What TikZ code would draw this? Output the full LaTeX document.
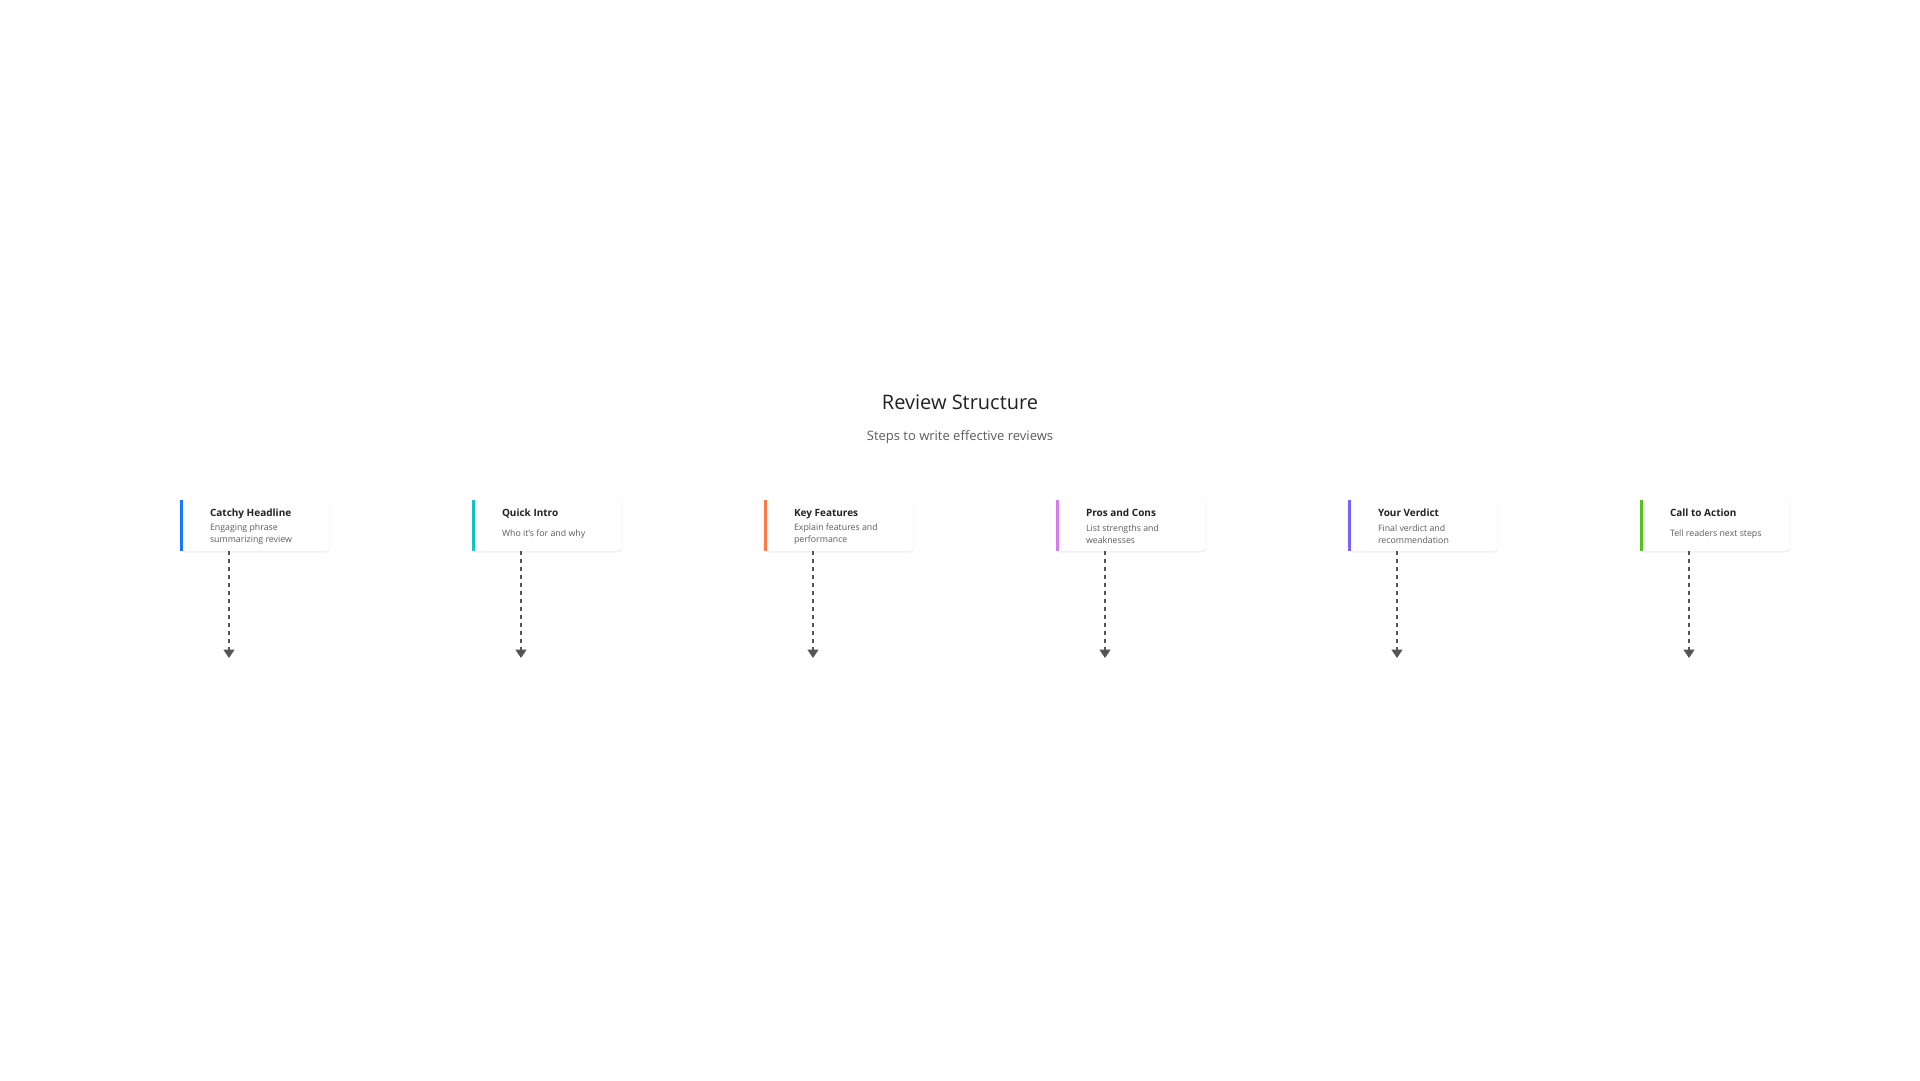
\documentclass[tikz,border=0pt]{standalone}
\usepackage{fontspec}
\setmainfont{Open Sans}
\usetikzlibrary{positioning,arrows.meta,shadows}

\definecolor{inkdark}{HTML}{222222}
\definecolor{inkgray}{HTML}{5C5C5C}
\definecolor{flowgray}{HTML}{555555}
\definecolor{barblue}{HTML}{1677FF}
\definecolor{barcyan}{HTML}{13C2C2}
\definecolor{barorange}{HTML}{FF7A45}
\definecolor{barorchid}{HTML}{D17CF5}
\definecolor{barviolet}{HTML}{7B61FF}
\definecolor{bargreen}{HTML}{52C41A}

\tikzset{
  card/.style={rectangle, rounded corners=4pt, fill=white, draw=black!5,
    minimum width=150pt, minimum height=51pt, inner sep=0pt,
    drop shadow={opacity=0.12, shadow xshift=0pt, shadow yshift=-1.5pt}},
  accent/.style={line width=3pt},
  head/.style={inner sep=0pt, text height=7.5pt, text depth=2.5pt, text=inkdark,
    font=\bfseries\fontsize{10}{12}\selectfont},
  desc/.style={inner sep=0pt, align=left, text=inkgray,
    font=\fontsize{8.8}{12}\selectfont},
  flow/.style={flowgray, line width=1.6pt, dash pattern=on 4pt off 4pt,
    -{Triangle[width=11pt,length=8.5pt]}}
}

\begin{document}
\begin{tikzpicture}[x=1pt, y=-1pt]
        \useasboundingbox[fill=white] (0,0) rectangle (1920,1080);

        \node[text=inkdark, font=\fontsize{20}{24}\selectfont] (title) at (960,402) {Review Structure};
        \node[text=inkgray, font=\fontsize{13}{15}\selectfont] (subtitle) at (960,437) {Steps to write effective reviews};

        % cards
        \node[card] (c1) at (255,525.5) {};
        \node[card] (c2) at (547,525.5) {};
        \node[card] (c3) at (839,525.5) {};
        \node[card] (c4) at (1131,525.5) {};
        \node[card] (c5) at (1423,525.5) {};
        \node[card] (c6) at (1715,525.5) {};

        \draw[accent, barblue] ([xshift=1.5pt]c1.north west) -- ([xshift=1.5pt]c1.south west);
        \draw[accent, barcyan] ([xshift=1.5pt]c2.north west) -- ([xshift=1.5pt]c2.south west);
        \draw[accent, barorange] ([xshift=1.5pt]c3.north west) -- ([xshift=1.5pt]c3.south west);
        \draw[accent, barorchid] ([xshift=1.5pt]c4.north west) -- ([xshift=1.5pt]c4.south west);
        \draw[accent, barviolet] ([xshift=1.5pt]c5.north west) -- ([xshift=1.5pt]c5.south west);
        \draw[accent, bargreen] ([xshift=1.5pt]c6.north west) -- ([xshift=1.5pt]c6.south west);

        % texts
        \node[head, right=30pt of c1.west, yshift=11.3pt] (h1) {Catchy Headline};
        \node[desc, right=30pt of c1.west, yshift=-8.5pt] (d1) {Engaging phrase\\summarizing review};
        \node[head, right=30pt of c2.west, yshift=11.3pt] (h2) {Quick Intro};
        \node[desc, right=30pt of c2.west, yshift=-8.5pt] (d2) {Who it's for and why};
        \node[head, right=30pt of c3.west, yshift=11.3pt] (h3) {Key Features};
        \node[desc, right=30pt of c3.west, yshift=-8.5pt] (d3) {Explain features and\\performance};
        \node[head, right=30pt of c4.west, yshift=11.3pt] (h4) {Pros and Cons};
        \node[desc, right=30pt of c4.west, yshift=-8.5pt] (d4) {List strengths and\\weaknesses};
        \node[head, right=30pt of c5.west, yshift=11.3pt] (h5) {Your Verdict};
        \node[desc, right=30pt of c5.west, yshift=-8.5pt] (d5) {Final verdict and\\recommendation};
        \node[head, right=30pt of c6.west, yshift=11.3pt] (h6) {Call to Action};
        \node[desc, right=30pt of c6.west, yshift=-8.5pt] (d6) {Tell readers next steps};

        % arrows
        \coordinate (e1) at (229,658);
        \coordinate (e2) at (521,658);
        \coordinate (e3) at (813,658);
        \coordinate (e4) at (1105,658);
        \coordinate (e5) at (1397,658);
        \coordinate (e6) at (1689,658);
        \draw[flow] (c1.south -| e1) -- (e1);
        \draw[flow] (c2.south -| e2) -- (e2);
        \draw[flow] (c3.south -| e3) -- (e3);
        \draw[flow] (c4.south -| e4) -- (e4);
        \draw[flow] (c5.south -| e5) -- (e5);
        \draw[flow] (c6.south -| e6) -- (e6);
    \end{tikzpicture}
\end{document}
